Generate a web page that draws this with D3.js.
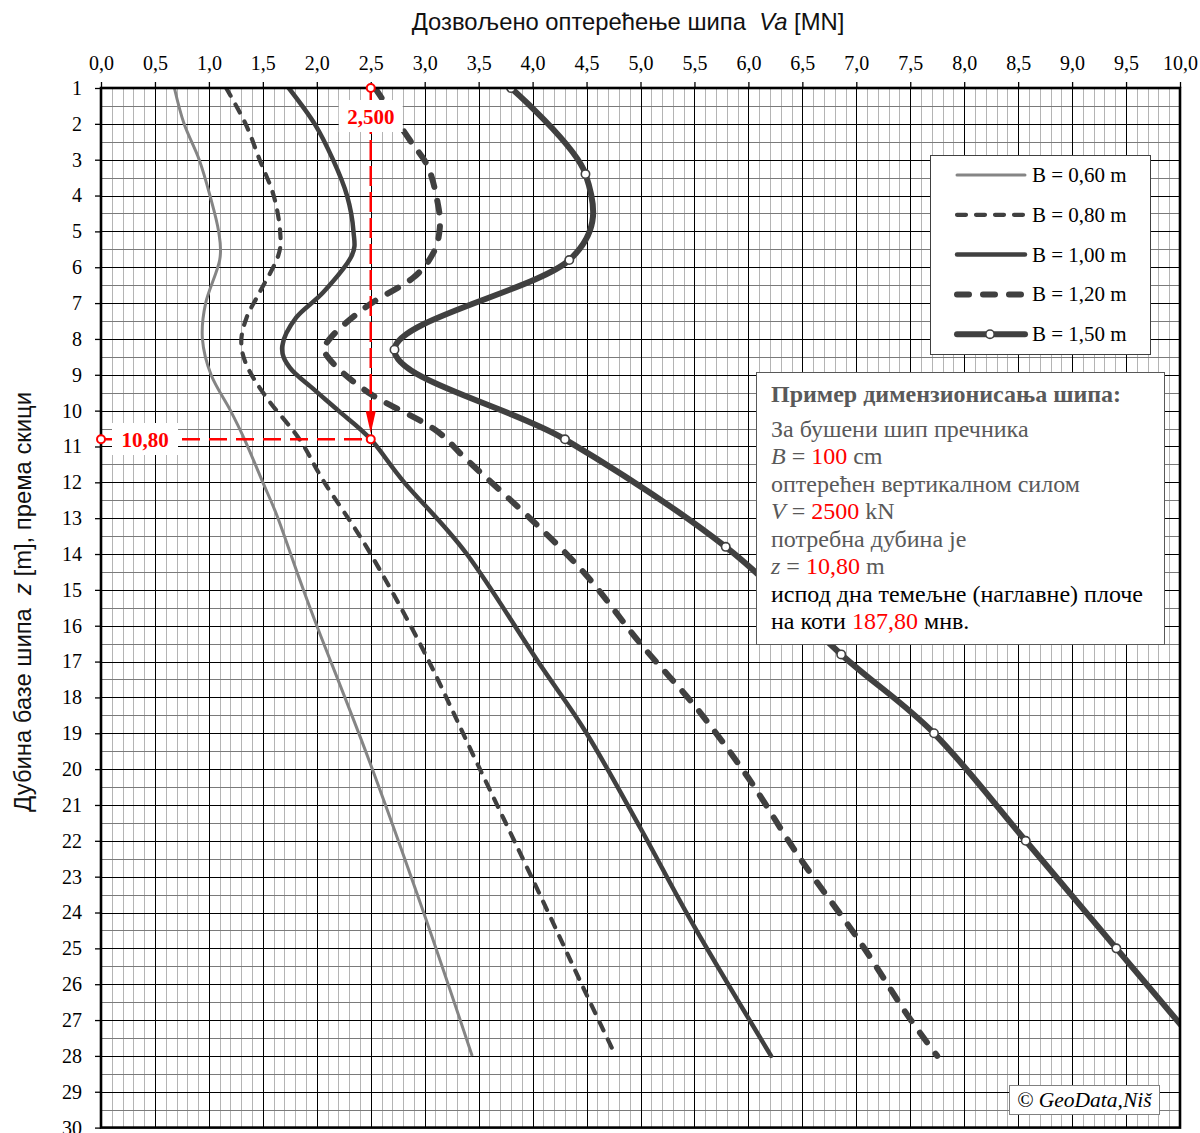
<!DOCTYPE html>
<html>
<head>
<meta charset="utf-8">
<script src="https://cdn.jsdelivr.net/npm/d3@7"></script>
<style>
  body { margin: 0; background: #fff; }
  svg { display: block; }
</style>
</head>
<body>
<svg id="chart" width="1200" height="1133"></svg>
<script>
// Allowable pile load Va [MN] against pile-base depth z [m], per pile diameter B.
const seriesNames = ["B = 0,60 m", "B = 0,80 m", "B = 1,00 m", "B = 1,20 m", "B = 1,50 m"];

const depth060 = [1, 2, 3, 4, 5, 5.8, 7, 8, 9, 10, 10.8, 12, 13, 14.7, 16, 19.8, 24, 28];
const va060    = [0.68, 0.77, 0.91, 1.01, 1.09, 1.10, 0.97, 0.94, 1.02, 1.20, 1.33, 1.50, 1.64, 1.84, 2.00, 2.49, 2.99, 3.44];

const depth080 = [1, 2, 3, 4, 5, 5.7, 6.7, 7.4, 8.1, 8.8, 9.7, 10.8, 12, 13.9, 16.7, 19.8, 23.2, 26.1, 28];
const va080    = [1.16, 1.34, 1.47, 1.60, 1.66, 1.64, 1.47, 1.35, 1.30, 1.36, 1.55, 1.84, 2.07, 2.48, 2.99, 3.48, 4.02, 4.47, 4.77];

const depth100 = [1, 2, 3, 4, 5, 5.7, 6.7, 7.4, 8.2, 8.8, 9.4, 10, 10.8, 12, 14, 17, 19, 21.65, 24.4, 28];
const va100    = [1.74, 1.98, 2.15, 2.28, 2.34, 2.32, 2.06, 1.81, 1.68, 1.75, 1.97, 2.20, 2.50, 2.81, 3.39, 4.05, 4.50, 5.00, 5.50, 6.21];

const depth120 = [1, 2.4, 3.2, 4.2, 4.9, 5.6, 6.3, 7.1, 8, 8.5, 9.5, 10.5, 11.4, 13.1, 14.6, 16.5, 18.3, 20.25, 22.45, 24.8, 26.8, 28];
const va120    = [2.54, 2.85, 3.03, 3.12, 3.14, 3.08, 2.89, 2.46, 2.12, 2.10, 2.48, 3.08, 3.40, 4.01, 4.50, 5.00, 5.52, 6.00, 6.47, 7.03, 7.46, 7.75];

const depth150 = [1, 3.4, 5.8, 8.3, 10.8, 13.8, 16.8, 19, 22, 25, 28];
const va150    = [3.80, 4.49, 4.34, 2.72, 4.30, 5.79, 6.86, 7.72, 8.57, 9.41, 10.25];

// Axis ticks
const loadTicks  = d3.range(0, 21).map(i => i * 0.5);
const depthTicks = d3.range(1, 31);

// Worked example: pile B = 100 cm, load V = 2500 kN -> required depth z = 10,80 m
const exampleDiameterCm = 100;
const exampleLoad  = 2.5;   // MN
const exampleDepth = 10.8;  // m
const exampleLevel = "187,80";

const comma = (v, d) => v.toFixed(d).replace(".", ",");

const svg = d3.select("#chart");
const plotL = 101, plotR = 1180, plotT = 88, plotB = 1127.6;
const x = d3.scaleLinear().domain([0, 10]).range([plotL, plotR]);
const y = d3.scaleLinear().domain([1, 30]).range([plotT, plotB]);

svg.append("rect").attr("width", 1200).attr("height", 1133).attr("fill", "#fff");

// ---- grid ----
const grid = svg.append("g").attr("shape-rendering", "crispEdges");
const minorX = d3.range(1, 100).filter(i => i % 5 !== 0).map(i => i / 10);
const majorX = d3.range(1, 20).map(i => i / 2);
const halfY = d3.range(1, 30).map(i => i + 0.5);
const fullY = d3.range(2, 30);

grid.selectAll(".vx").data(minorX).join("line")
  .attr("x1", d => Math.round(x(d)) + 0.5).attr("x2", d => Math.round(x(d)) + 0.5)
  .attr("y1", plotT).attr("y2", plotB)
  .attr("stroke", "#b4b4b4").attr("stroke-width", 1);
grid.selectAll(".hy").data(halfY).join("line")
  .attr("x1", plotL).attr("x2", plotR)
  .attr("y1", d => Math.round(y(d)) + 0.5).attr("y2", d => Math.round(y(d)) + 0.5)
  .attr("stroke", "#7a7a7a").attr("stroke-width", 1);
grid.selectAll(".mx").data(majorX).join("line")
  .attr("x1", d => Math.round(x(d)) + 0.5).attr("x2", d => Math.round(x(d)) + 0.5)
  .attr("y1", plotT).attr("y2", plotB)
  .attr("stroke", "#000").attr("stroke-width", 1);
grid.selectAll(".fy").data(fullY).join("line")
  .attr("x1", plotL).attr("x2", plotR)
  .attr("y1", d => Math.round(y(d)) + 0.5).attr("y2", d => Math.round(y(d)) + 0.5)
  .attr("stroke", "#000").attr("stroke-width", 1);

// ---- axes ----
const axTop = d3.axisTop(x).tickValues(loadTicks).tickFormat(d => comma(d, 1))
  .tickSize(6).tickPadding(12).tickSizeOuter(0);
const gx = svg.append("g").attr("transform", `translate(0,${plotT})`).call(axTop);
const axLeft = d3.axisLeft(y).tickValues(depthTicks).tickFormat(d => d)
  .tickSize(6).tickPadding(13).tickSizeOuter(0);
const gy = svg.append("g").attr("transform", `translate(${plotL},0)`).call(axLeft);
[gx, gy].forEach(g => {
  g.select(".domain").remove();
  g.selectAll("line").attr("stroke", "#000").attr("stroke-width", 1.3);
  g.selectAll("text").attr("font-family", "'Liberation Serif', 'Times New Roman', serif")
    .attr("font-size", 20).attr("fill", "#000");
});

// axis titles
const topTitle = svg.append("text").attr("x", 628).attr("y", 30).attr("text-anchor", "middle")
  .attr("font-family", "'Liberation Sans', Arial, sans-serif").attr("font-size", 23.8).attr("fill", "#111")
  .attr("xml:space", "preserve");
topTitle.append("tspan").text("Дозвољено оптерећење шипа  ");
topTitle.append("tspan").text("Va").attr("font-style", "italic");
topTitle.append("tspan").text(" [MN]");

const leftTitle = svg.append("text").attr("transform", "translate(31,602) rotate(-90)")
  .attr("text-anchor", "middle")
  .attr("font-family", "'Liberation Sans', Arial, sans-serif").attr("font-size", 23.8).attr("fill", "#111")
  .attr("xml:space", "preserve");
leftTitle.append("tspan").text("Дубина базе шипа  ");
leftTitle.append("tspan").text("z").attr("font-style", "italic");
leftTitle.append("tspan").text(" [m], према скици");

// ---- curves ----
svg.append("clipPath").attr("id", "plotClip")
  .append("rect").attr("x", plotL).attr("y", plotT).attr("width", plotR - plotL).attr("height", plotB - plotT);

const styles = [
  { color: "#858585", width: 3, dash: null, cap: "butt" },
  { color: "#404040", width: 4.2, dash: "9,10", cap: "round" },
  { color: "#404040", width: 4.5, dash: null, cap: "round" },
  { color: "#404040", width: 6, dash: "12,14", cap: "round" },
  { color: "#404040", width: 6, dash: null, cap: "round" }
];
const seriesData = [
  d3.zip(depth060, va060), d3.zip(depth080, va080), d3.zip(depth100, va100),
  d3.zip(depth120, va120), d3.zip(depth150, va150)
];

const line = d3.line().x(d => x(d[1])).y(d => y(d[0])).curve(d3.curveCatmullRom.alpha(0));
const curves = svg.append("g").attr("clip-path", "url(#plotClip)");
seriesData.forEach((pts, i) => {
  const s = styles[i];
  curves.append("path").datum(pts).attr("d", line)
    .attr("fill", "none").attr("stroke", s.color).attr("stroke-width", s.width)
    .attr("stroke-linecap", s.cap).attr("stroke-linejoin", "round")
    .attr("stroke-dasharray", s.dash);
});
curves.selectAll(".mk").data(seriesData[4]).join("circle")
  .attr("cx", d => x(d[1])).attr("cy", d => y(d[0])).attr("r", 4.2)
  .attr("fill", "#fff").attr("stroke", "#404040").attr("stroke-width", 1.6);

// plot frame
svg.append("rect").attr("x", plotL).attr("y", plotT).attr("width", plotR - plotL).attr("height", plotB - plotT)
  .attr("fill", "none").attr("stroke", "#000").attr("stroke-width", 2.6);

// ---- worked example markers ----
const red = "#ff0000";
const ann = svg.append("g");
const xa = x(exampleLoad), ya = y(exampleDepth);
ann.append("line").attr("x1", xa).attr("x2", xa).attr("y1", y(1)).attr("y2", ya - 22)
  .attr("stroke", red).attr("stroke-width", 2.5).attr("stroke-dasharray", "20,6");
ann.append("path")
  .attr("d", `M${xa - 5},${ya - 28} L${xa + 5},${ya - 28} L${xa},${ya - 6} Z`).attr("fill", red);
ann.append("line").attr("x1", x(0)).attr("x2", xa).attr("y1", ya).attr("y2", ya)
  .attr("stroke", red).attr("stroke-width", 2.5).attr("stroke-dasharray", "18,9");
[[x(0), ya], [xa, ya], [xa, y(1)]].forEach(p => {
  ann.append("circle").attr("cx", p[0]).attr("cy", p[1]).attr("r", 4)
    .attr("fill", "#fff").attr("stroke", red).attr("stroke-width", 2);
});
function redLabel(cx, baseline, txt, w) {
  ann.append("rect").attr("x", cx - w / 2).attr("y", baseline - 24).attr("width", w).attr("height", 32)
    .attr("fill", "#fff");
  ann.append("text").attr("x", cx).attr("y", baseline).attr("text-anchor", "middle")
    .attr("font-family", "'Liberation Serif', 'Times New Roman', serif").attr("font-weight", "bold")
    .attr("font-size", 21).attr("fill", red).text(txt);
}
redLabel(xa, 124, comma(exampleLoad, 3), 64);
redLabel(145, 447, comma(exampleDepth, 2), 66);

// ---- legend ----
const lg = svg.append("g");
lg.append("rect").attr("x", 930.5).attr("y", 155.5).attr("width", 220).attr("height", 199)
  .attr("fill", "#fff").attr("stroke", "#404040").attr("stroke-width", 1);
seriesNames.forEach((name, i) => {
  const s = styles[i];
  const ly = 175 + i * 39.8;
  lg.append("line").attr("x1", 957).attr("x2", 1025).attr("y1", ly).attr("y2", ly)
    .attr("stroke", s.color).attr("stroke-width", s.width)
    .attr("stroke-linecap", "round").attr("stroke-dasharray", s.dash);
  if (i === 4) {
    lg.append("circle").attr("cx", 990).attr("cy", ly).attr("r", 4.2)
      .attr("fill", "#fff").attr("stroke", "#404040").attr("stroke-width", 1.6);
  }
  lg.append("text").attr("x", 1032).attr("y", ly + 7)
    .attr("font-family", "'Liberation Serif', 'Times New Roman', serif").attr("font-size", 21)
    .attr("fill", "#000").text(name);
});

// ---- worked example note ----
const note = svg.append("g");
note.append("rect").attr("x", 756.5).attr("y", 372.5).attr("width", 408).attr("height", 272)
  .attr("fill", "#fff").attr("stroke", "#595959").attr("stroke-width", 1);
const grey = "#595959";
const noteFont = "'Liberation Serif', 'Times New Roman', serif";
function noteLine(baseline, parts, bold) {
  const t = note.append("text").attr("x", 771).attr("y", baseline)
    .attr("font-family", noteFont).attr("font-size", 24).attr("xml:space", "preserve");
  if (bold) t.attr("font-weight", "bold");
  parts.forEach(p => {
    const ts = t.append("tspan").text(p.t).attr("fill", p.c || grey);
    if (p.i) ts.attr("font-style", "italic");
  });
}
noteLine(401.7, [{ t: "Пример димензионисања шипа:" }], true);
noteLine(436.7, [{ t: "За бушени шип пречника" }]);
noteLine(464, [{ t: "B", i: true }, { t: " = " }, { t: String(exampleDiameterCm), c: red }, { t: " cm" }]);
noteLine(492.3, [{ t: "оптерећен вертикалном силом" }]);
noteLine(519.3, [{ t: "V", i: true }, { t: " = " }, { t: String(Math.round(exampleLoad * 1000)), c: red }, { t: " kN" }]);
noteLine(547.3, [{ t: "потребна дубина је" }]);
noteLine(574, [{ t: "z", i: true }, { t: " = " }, { t: comma(exampleDepth, 2), c: red }, { t: " m" }]);
noteLine(602.3, [{ t: "испод дна темељне (наглавне) плоче", c: "#000" }]);
noteLine(629, [{ t: "на коти ", c: "#000" }, { t: exampleLevel, c: red }, { t: " мнв.", c: "#000" }]);

// ---- credit ----
svg.append("rect").attr("x", 1009.5).attr("y", 1085.5).attr("width", 150).attr("height", 29)
  .attr("fill", "#fff").attr("stroke", "#808080").attr("stroke-width", 1);
svg.append("text").attr("x", 1017).attr("y", 1107)
  .attr("font-family", noteFont).attr("font-size", 21.5).attr("font-style", "italic")
  .attr("fill", "#000").text("© GeoData,Niš");
</script>
</body>
</html>
